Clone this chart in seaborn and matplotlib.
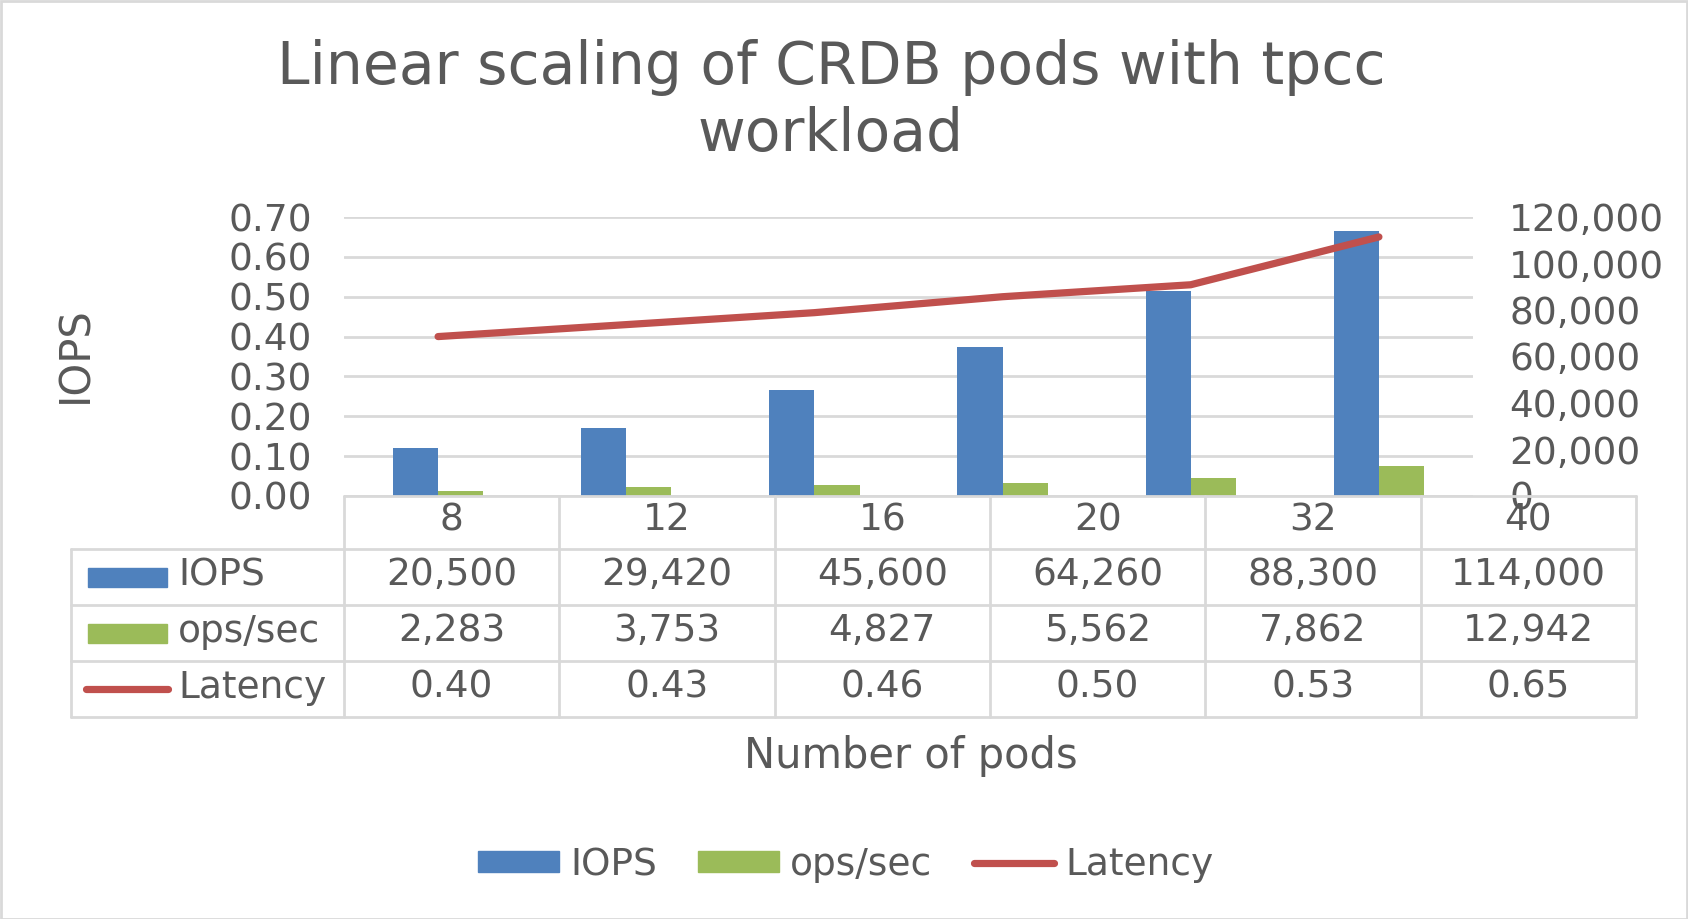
import numpy as np
import pandas as pd
import matplotlib
matplotlib.use("Agg")
import matplotlib.pyplot as plt
import seaborn as sns
from matplotlib.patches import Patch, Rectangle
from matplotlib.lines import Line2D
from matplotlib.ticker import FuncFormatter

# ---------------- data ----------------
pods = ["8", "12", "16", "20", "32", "40"]
iops = [20500, 29420, 45600, 64260, 88300, 114000]
ops_sec = [2283, 3753, 4827, 5562, 7862, 12942]
latency = [0.40, 0.43, 0.46, 0.50, 0.53, 0.65]
series_names = ["IOPS", "ops/sec", "Latency"]

title = "Linear scaling of CRDB pods with tpcc\nworkload"
xlabel = "Number of pods"
ylabel = "IOPS"

# ---------------- style ----------------
sns.set_style("white")
plt.rcParams["font.family"] = ["DejaVu Sans"]
TXT = "#595959"
GRID = "#D9D9D9"
BLUE, GREEN, RED = "#4F81BD", "#9BBB59", "#C0504D"
FS = 27

W, H = 1688, 919
fig = plt.figure(figsize=(W / 100, H / 100), dpi=100)
fig.patch.set_facecolor("white")


def px_axes(x0, y0, x1, y1):
    return fig.add_axes([x0 / W, 1 - y1 / H, (x1 - x0) / W, (y1 - y0) / H])


df = pd.DataFrame({"pods": pods, "IOPS": iops, "ops/sec": ops_sec, "Latency": latency})
long = df.melt(id_vars="pods", value_vars=["IOPS", "ops/sec"], var_name="series", value_name="value")

# ---------------- plot ----------------
ax_bar = px_axes(344, 217, 1473, 496)
ax_line = ax_bar.twinx()

sns.barplot(data=long, x="pods", y="value", hue="series", order=pods,
            hue_order=["IOPS", "ops/sec"], palette=[BLUE, GREEN],
            saturation=1, width=0.48, linewidth=0, legend=False, ax=ax_bar)
sns.lineplot(data=df, x="pods", y="Latency", color=RED, linewidth=5.2,
             sort=False, ax=ax_line, solid_capstyle="round")

ax_bar.set_ylim(0, 120000)
ax_bar.yaxis.remove_overlapping_locs = False
ax_bar.set_yticks(np.arange(0, 120001, 20000))
ax_bar.set_yticks(np.linspace(0, 120000, 8), minor=True)
ax_bar.yaxis.set_major_formatter(FuncFormatter(lambda v, p: f"{int(v):,}"))
ax_bar.yaxis.tick_right()
ax_bar.grid(False)
ax_bar.grid(which="minor", axis="y", color=GRID, linewidth=2)
ax_bar.tick_params(axis="y", which="both", length=0, labelsize=FS, labelcolor=TXT, pad=26)
ax_bar.set_axisbelow(True)

ax_line.set_ylim(0, 0.7)
ax_line.set_yticks(np.arange(0, 0.71, 0.1))
ax_line.yaxis.set_major_formatter(FuncFormatter(lambda v, p: f"{v:.2f}"))
ax_line.yaxis.tick_left()
ax_line.grid(False)
ax_line.tick_params(axis="y", length=0, labelsize=FS, labelcolor=TXT, pad=23)

for a in (ax_bar, ax_line):
    a.set_xlabel("")
    a.set_ylabel("")
    a.tick_params(axis="x", length=0, labelbottom=False)
    for s in a.spines.values():
        s.set_visible(False)
ax_bar.set_xlim(-0.5, len(pods) - 0.5)

# ---------------- data table ----------------
tx0, ty0, tx1, ty1 = 71, 496, 1636, 717
tab = px_axes(tx0, ty0, tx1, ty1)
tab.set_xlim(tx0, tx1)
tab.set_ylim(ty1, ty0)
tab.axis("off")
col0 = 344
ncol = len(pods)
cw = (tx1 - col0) / ncol
rows = [496, 549, 605, 661, 717]
lk = dict(color=GRID, linewidth=2, clip_on=False)
tab.plot([col0, tx1], [rows[0], rows[0]], **lk)
for r in rows[1:]:
    tab.plot([tx0, tx1], [r, r], **lk)
tab.plot([tx0, tx0], [rows[1], rows[-1]], **lk)
for i in range(ncol + 1):
    x = col0 + i * cw
    tab.plot([x, x], [rows[0], rows[-1]], **lk)

for i, p in enumerate(pods):
    tab.text(col0 + (i + 0.5) * cw, (rows[0] + rows[1]) / 2 - 2, p, ha="center",
             va="center", fontsize=FS, color=TXT)
row_vals = [[f"{v:,}" for v in iops], [f"{v:,}" for v in ops_sec],
            [f"{v:.2f}" for v in latency]]
for r, vals in enumerate(row_vals):
    yc = (rows[r + 1] + rows[r + 2]) / 2
    for i, t in enumerate(vals):
        tab.text(col0 + (i + 0.5) * cw, yc - 2, t, ha="center", va="center",
                 fontsize=FS, color=TXT)
    if r < 2:
        tab.add_patch(Rectangle((88, yc - 9.5), 79, 19,
                                color=[BLUE, GREEN][r], clip_on=False))
    else:
        tab.plot([86, 168], [yc, yc], color=RED, linewidth=5.2,
                 solid_capstyle="round", clip_on=False)
    tab.text(178, yc - 1, series_names[r], ha="left", va="center", fontsize=FS, color=TXT)

# ---------------- texts ----------------
fig.text(831 / W, 1 - 101 / H, title, ha="center", va="center", fontsize=42,
         color=TXT, linespacing=1.2)
fig.text(911 / W, 1 - 756 / H, xlabel, ha="center", va="center", fontsize=30, color=TXT)
fig.text(75 / W, 1 - 355 / H, ylabel, ha="center", va="center", rotation=90,
         fontsize=30, color=TXT)

handles = [Patch(color=BLUE, label=series_names[0]),
           Patch(color=GREEN, label=series_names[1]),
           Line2D([], [], color=RED, linewidth=5.2, solid_capstyle="round",
                  label=series_names[2])]
fig.legend(handles=handles, loc="center", bbox_to_anchor=(846 / W, 1 - 865 / H),
           ncol=3, frameon=False, fontsize=FS, labelcolor=TXT, handlelength=2.15,
           handleheight=0.5, handletextpad=0.3, columnspacing=1.1)

fig.patches.append(Rectangle((0.5 / W, 0.5 / H), 1 - 1.5 / W, 1 - 1.5 / H,
                             transform=fig.transFigure, fill=False,
                             edgecolor=GRID, linewidth=2))

fig.savefig("out.png", dpi=100)
